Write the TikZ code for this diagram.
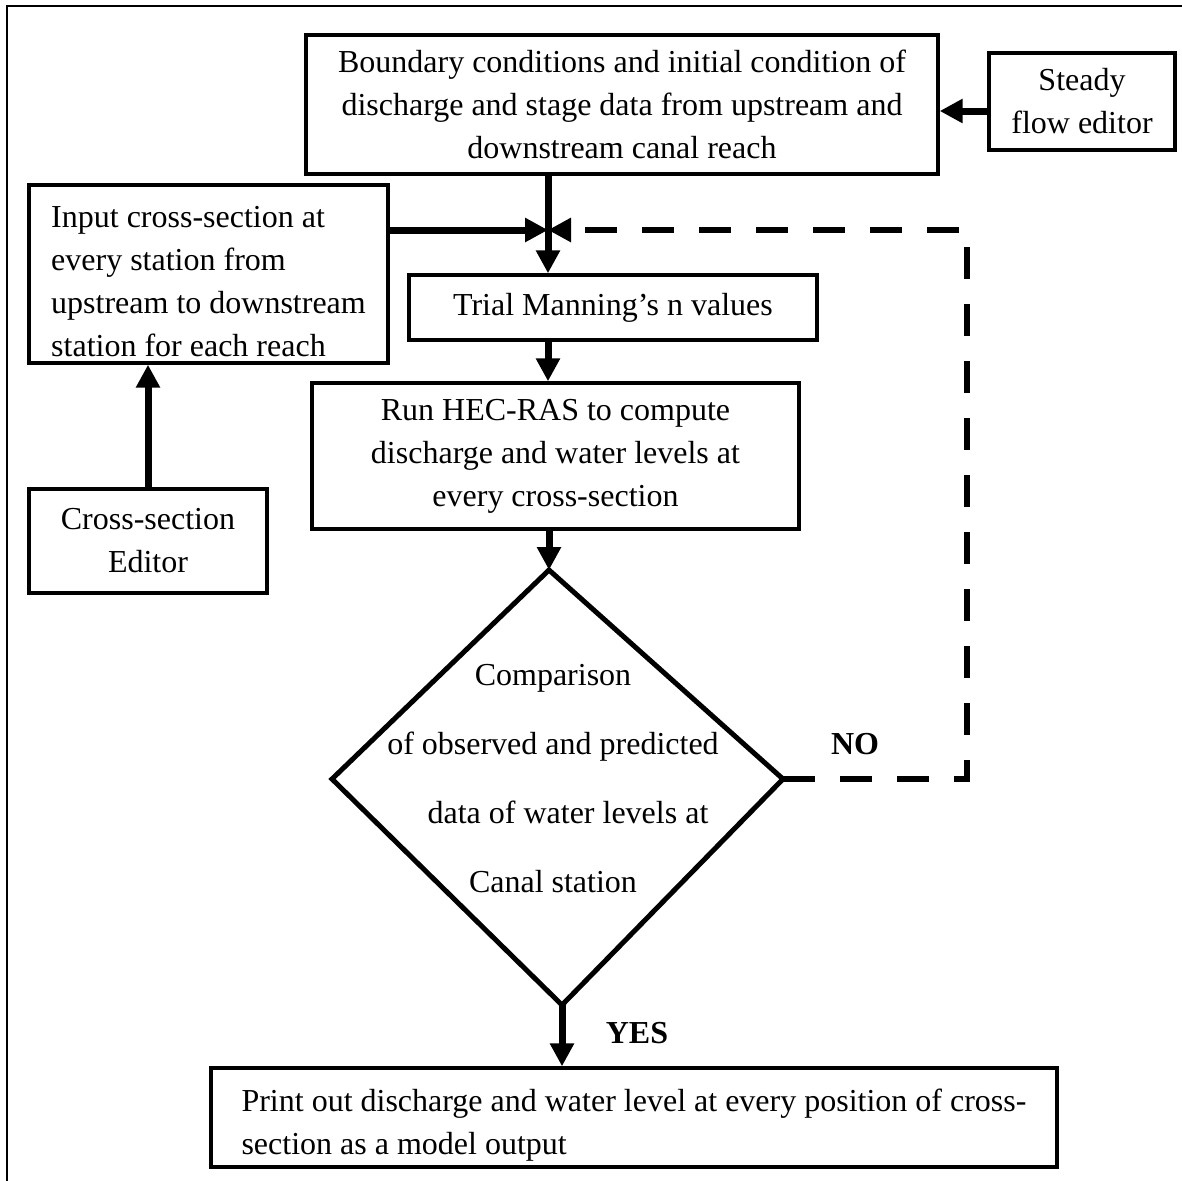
\documentclass[tikz,border=0pt]{standalone}
\usepackage{fontspec}
\setmainfont{Liberation Serif}
\usetikzlibrary{arrows.meta,calc}
\begin{document}
\begin{tikzpicture}[x=0.5pt,y=-0.5pt,
  box/.style={draw,line width=1.7pt,inner sep=0pt,align=center,
    font=\fontsize{16}{21.5}\selectfont},
  arr/.style={line width=3.5pt,-{Triangle[length=11.5pt,width=11.5pt]}},
  dasharr/.style={line width=3pt,dash pattern=on 16pt off 12.5pt,-{Triangle[length=11.5pt,width=11.5pt]}},
  lbl/.style={font=\fontsize{16}{20}\selectfont\bfseries}]
\useasboundingbox (0,0) rectangle (1182,1180);
\begin{scope}
\clip (0,0) rectangle (1182,1180);
\draw[line width=1pt] (7,1200) -- (7,6) -- (1200,6);
\end{scope}

\node[box,minimum width=316pt,minimum height=69.5pt] (top) at (622,104.5)
  {Boundary conditions and initial condition of\\discharge and stage data from upstream and\\downstream canal reach};
\node[box,minimum width=93pt,minimum height=48.5pt] (steady) at (1082,101.5)
  {Steady\\flow editor};
\node[box,minimum width=179.5pt,minimum height=89pt,align=left] (input) at (208.5,274)
  {\rule{0pt}{18pt}Input cross-section at\\every station from\\upstream to downstream\\station for each reach};
\node[box,minimum width=204pt,minimum height=32.5pt] (trial) at (613,307.5)
  {Trial Manning’s n values};
\node[box,minimum width=243.5pt,minimum height=73pt] (run) at (555.5,456)
  {Run HEC-RAS to compute\\discharge and water levels at\\every cross-section};
\node[box,minimum width=119pt,minimum height=52pt] (editor) at (148,541)
  {Cross-section\\Editor};
\node[box,minimum width=423pt,minimum height=49.5pt,align=left] (print) at (634,1117.5)
  {\rule{0pt}{19pt}Print out discharge and water level at every position of cross-\\section as a model output};

% decision diamond
\coordinate (dT) at (549,570);
\coordinate (dR) at (783,779);
\coordinate (dB) at (562,1005);
\coordinate (dL) at (332,779);
\draw[line width=2.5pt,line join=miter] (dT) -- (dR) -- (dB) -- (dL) -- cycle;
\node[align=center,font=\fontsize{16}{34.5}\selectfont] (cmp) at (553,779)
  {Comparison\\of observed and predicted\\\hspace*{15pt}data of water levels at\\Canal station};

\node[lbl] (no) at (855,744) {NO};
\node[lbl] (yes) at (637,1033) {YES};

% junction
\coordinate (j) at (548,230);
\coordinate (c1) at (967,230);

\draw[arr] ([yshift=-4.75pt]steady.west) -- ([yshift=-4.75pt]steady.west -| top.east);
\draw[arr] (top.south -| j) -- (trial.north -| j);
\draw[arr] (input.east |- j) -- (j);
\draw[dasharr] (dR) -- (dR -| c1) -- (c1) -- (j);
\draw[arr] (editor.north) -- (editor.north |- input.south);
\draw[arr] (trial.south -| j) -- (run.north -| j);
\draw[arr] (run.south -| dT) -- (dT);
\draw[arr] (dB) -- (dB |- print.north);
\end{tikzpicture}
\end{document}
